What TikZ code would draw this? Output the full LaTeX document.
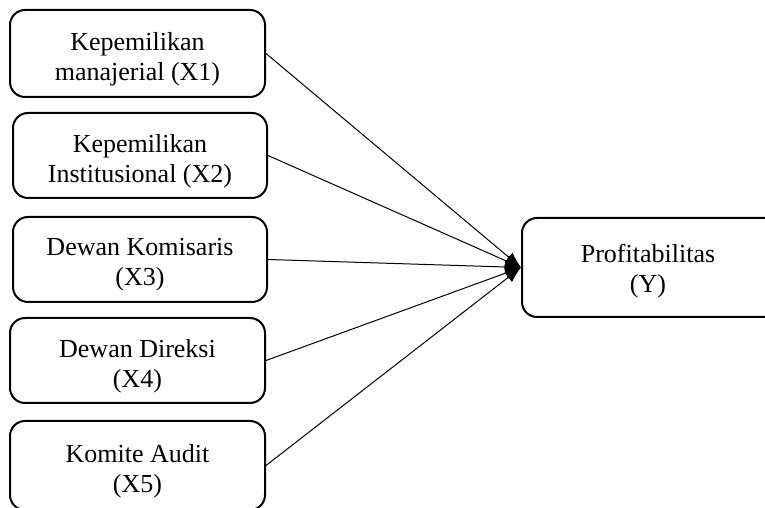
\documentclass[tikz,border=0pt]{standalone}
\usepackage{fontspec}
\setmainfont{Liberation Serif}
\usetikzlibrary{arrows.meta}
\begin{document}
\begin{tikzpicture}[x=1pt,y=1pt,
  box/.style={draw, line width=2pt, rounded corners=15pt, inner sep=0pt},
  txt/.style={align=center, inner sep=0pt, font=\fontsize{26}{30}\selectfont},
  conn/.style={line width=1pt, -{Latex[length=16pt,width=12pt]}}]
\useasboundingbox (0,0) rectangle (765,508);
\clip (0,0) rectangle (765,508);
\fill[white] (0,0) rectangle (765,508);
\node[box, minimum width=255pt, minimum height=87pt] (b1) at (137.5,454.5) {};
\node[box, minimum width=254pt, minimum height=85pt] (b2) at (140,352.5) {};
\node[box, minimum width=254pt, minimum height=85pt] (b3) at (140,248.5) {};
\node[box, minimum width=255pt, minimum height=85pt] (b4) at (137.5,147.5) {};
\node[box, minimum width=255pt, minimum height=89pt] (b5) at (137.5,42.5) {};
\node[box, minimum width=290pt, minimum height=99pt] (y) at (667,240.5) {};
\node[txt] (t1) at ([yshift=-5.5pt]b1.center) {Kepemilikan\\manajerial (X1)};
\node[txt] (t2) at ([yshift=-5.5pt]b2.center) {Kepemilikan\\Institusional (X2)};
\node[txt] (t3) at ([yshift=-5.5pt]b3.center) {Dewan Komisaris\\(X3)};
\node[txt] (t4) at ([yshift=-6pt]b4.center) {Dewan Direksi\\(X4)};
\node[txt] (t5) at ([yshift=-6pt]b5.center) {Komite Audit\\(X5)};
\node[txt] (ty) at ([xshift=-19pt,yshift=-4pt]y.center) {Profitabilitas\\(Y)};
\foreach \b in {b1,b2,b3,b4,b5}{
  \draw[conn] (\b.east) -- (y.west);
}
\end{tikzpicture}
\end{document}
